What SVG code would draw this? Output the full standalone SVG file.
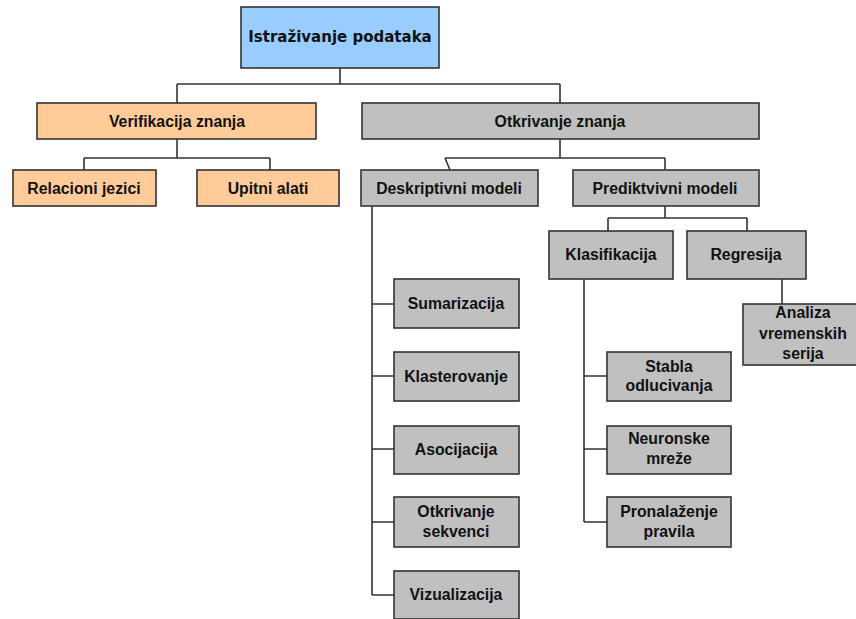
<svg xmlns="http://www.w3.org/2000/svg" width="856" height="619" viewBox="0 0 856 619">
  <style>
    .box { stroke: #333333; stroke-width: 1.6; }
    .blue { fill: #99CCFF; }
    .orange { fill: #FFCC99; }
    .grey { fill: #C0C0C0; }
    .lbl { font-family: "Liberation Sans", Arial, sans-serif; font-weight: bold; font-size: 15.8px; fill: #111111; text-anchor: middle; }
    .title { font-family: "DejaVu Sans", Verdana, sans-serif; font-weight: bold; font-size: 15px; fill: #111111; text-anchor: middle; }
    .wire { fill: none; stroke: #333333; stroke-width: 1.6; }
  </style>
  <rect width="856" height="619" fill="#ffffff"/>

  <g id="connectors">
    <!-- root to level 1 -->
    <path class="wire" d="M340 68 V84 M177 84 H560 M177 84 V103 M560 84 V103"/>
    <!-- Verifikacija znanja children -->
    <path class="wire" d="M177 139 V158 M84 158 H270 M84 158 V170 M270 158 V170"/>
    <!-- Otkrivanje znanja children -->
    <path class="wire" d="M560 139 V158 M445 158 H665 M445 158 L450 170 M665 158 V170"/>
    <!-- Deskriptivni modeli trunk -->
    <path class="wire" d="M372 206 V595 M372 304 H394 M372 376 H394 M372 449 H394 M372 522 H394 M372 595 H394"/>
    <!-- Prediktivni modeli children -->
    <path class="wire" d="M665 206 V218 M608 218 H747 M608 218 V231 M747 218 V231"/>
    <!-- Klasifikacija trunk -->
    <path class="wire" d="M584 279 V522 M584 376 H607 M584 449 H607 M584 522 H607"/>
    <!-- Regresija to Analiza -->
    <path class="wire" d="M782 279 V304"/>
  </g>

  <g id="istrazivanje">
    <rect class="box blue" x="241" y="7" width="198" height="61"/>
    <text class="title" x="340" y="42">Istraživanje podataka</text>
  </g>

  <g id="verifikacija">
    <rect class="box orange" x="37" y="103" width="279" height="36"/>
    <text class="lbl" x="177" y="127">Verifikacija znanja</text>
  </g>
  <g id="relacioni">
    <rect class="box orange" x="13" y="170" width="143" height="36"/>
    <text class="lbl" x="84" y="194">Relacioni jezici</text>
  </g>
  <g id="upitni">
    <rect class="box orange" x="197" y="170" width="142" height="36"/>
    <text class="lbl" x="268" y="194">Upitni alati</text>
  </g>

  <g id="otkrivanje">
    <rect class="box grey" x="362" y="103" width="397" height="36"/>
    <text class="lbl" x="560" y="127">Otkrivanje znanja</text>
  </g>
  <g id="deskriptivni">
    <rect class="box grey" x="361" y="170" width="177" height="36"/>
    <text class="lbl" x="449" y="194">Deskriptivni modeli</text>
  </g>
  <g id="prediktivni">
    <rect class="box grey" x="573" y="170" width="186" height="36"/>
    <text class="lbl" x="665" y="194">Prediktvivni modeli</text>
  </g>

  <g id="sumarizacija">
    <rect class="box grey" x="394" y="279" width="125" height="49"/>
    <text class="lbl" x="456" y="309">Sumarizacija</text>
  </g>
  <g id="klasterovanje">
    <rect class="box grey" x="394" y="352" width="125" height="49"/>
    <text class="lbl" x="456" y="382">Klasterovanje</text>
  </g>
  <g id="asocijacija">
    <rect class="box grey" x="394" y="426" width="125" height="48"/>
    <text class="lbl" x="456" y="455">Asocijacija</text>
  </g>
  <g id="sekvence">
    <rect class="box grey" x="394" y="497" width="125" height="50"/>
    <text class="lbl" x="456" y="517">Otkrivanje</text>
    <text class="lbl" x="456" y="537">sekvenci</text>
  </g>
  <g id="vizualizacija">
    <rect class="box grey" x="394" y="571" width="125" height="48"/>
    <text class="lbl" x="456" y="600">Vizualizacija</text>
  </g>

  <g id="klasifikacija">
    <rect class="box grey" x="549" y="231" width="124" height="48"/>
    <text class="lbl" x="611" y="260">Klasifikacija</text>
  </g>
  <g id="regresija">
    <rect class="box grey" x="687" y="231" width="119" height="48"/>
    <text class="lbl" x="746" y="260">Regresija</text>
  </g>
  <g id="analiza">
    <rect class="box grey" x="743" y="304" width="116" height="61"/>
    <text class="lbl" x="803" y="318">Analiza</text>
    <text class="lbl" x="803" y="339">vremenskih</text>
    <text class="lbl" x="803" y="359">serija</text>
  </g>

  <g id="stabla">
    <rect class="box grey" x="607" y="352" width="124" height="49"/>
    <text class="lbl" x="669" y="372">Stabla</text>
    <text class="lbl" x="669" y="391">odlucivanja</text>
  </g>
  <g id="neuronske">
    <rect class="box grey" x="607" y="426" width="124" height="48"/>
    <text class="lbl" x="669" y="444">Neuronske</text>
    <text class="lbl" x="669" y="464">mreže</text>
  </g>
  <g id="pravila">
    <rect class="box grey" x="607" y="497" width="124" height="50"/>
    <text class="lbl" x="669" y="517">Pronalaženje</text>
    <text class="lbl" x="669" y="537">pravila</text>
  </g>
</svg>
